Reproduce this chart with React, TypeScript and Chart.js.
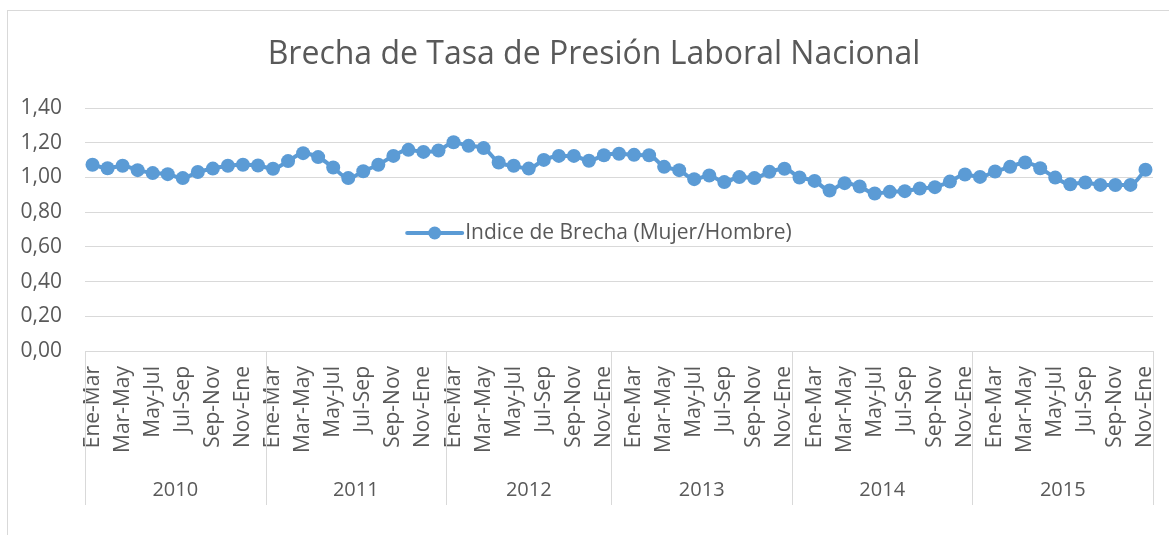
import React, { useEffect, useRef } from "react";
import { Chart, registerables } from "chart.js";

Chart.register(...registerables);

const periodsFull = ["Ene-Mar", "Feb-Abr", "Mar-May", "Abr-Jun", "May-Jul", "Jun-Ago", "Jul-Sep", "Ago-Oct", "Sep-Nov", "Oct-Dic", "Nov-Ene", "Dic-Feb"];
const periods2012 = ["Ene-Mar", "Feb-Abr", "Mar-May", "Abr-Jun", "May-Jul", "Jun-Ago", "Jul-Sep", "Ago-Oct", "Sep-Nov", "Oct-Dic", "Nov-Ene"];
const periodsLate = ["Dic-Feb", "Ene-Mar", "Feb-Abr", "Mar-May", "Abr-Jun", "May-Jul", "Jun-Ago", "Jul-Sep", "Ago-Oct", "Sep-Nov", "Oct-Dic", "Nov-Ene"];

const years = ["2010", "2011", "2012", "2013", "2014", "2015"];
const yearPeriods = [periodsFull, periodsFull, periods2012, periodsLate, periodsLate, periodsLate];

const values2010 = [1.073, 1.053, 1.067, 1.042, 1.025, 1.019, 0.996, 1.031, 1.051, 1.067, 1.073, 1.069];
const values2011 = [1.05, 1.094, 1.14, 1.117, 1.057, 0.996, 1.036, 1.073, 1.124, 1.159, 1.147, 1.155];
const values2012 = [1.203, 1.182, 1.169, 1.086, 1.067, 1.051, 1.101, 1.124, 1.124, 1.096, 1.128];
const values2013 = [1.136, 1.13, 1.128, 1.061, 1.042, 0.99, 1.011, 0.973, 1.002, 0.996, 1.032, 1.05];
const values2014 = [1.0, 0.98, 0.925, 0.967, 0.948, 0.907, 0.917, 0.921, 0.936, 0.944, 0.976, 1.017];
const values2015 = [1.003, 1.034, 1.061, 1.086, 1.053, 0.999, 0.961, 0.971, 0.957, 0.956, 0.957, 1.044];

const yTicks = [0, 0.2, 0.4, 0.6, 0.8, 1.0, 1.2, 1.4];

const seriesName = "Indice de Brecha (Mujer/Hombre)";
const title = "Brecha de Tasa de Presión Laboral Nacional";

const yearValues = [values2010, values2011, values2012, values2013, values2014, values2015];
const labels = yearPeriods.flat();
const data = yearValues.flat();

const FONT = "'Open Sans', Lato, sans-serif";
const TEXT = "#595959";
const GRID = "#d9d9d9";
const BLUE = "#5b9bd5";

const decorPlugin = {
  id: "decor",
  afterDraw(chart: any) {
    const { ctx, chartArea } = chart;
    const x = chart.scales.x;
    const half = (x.getPixelForValue(1) - x.getPixelForValue(0)) / 2;
    const top = chartArea.bottom;
    const bottom = x.bottom;
    ctx.save();

    // title
    ctx.fillStyle = TEXT;
    ctx.font = `32px ${FONT}`;
    ctx.textAlign = "center";
    ctx.textBaseline = "middle";
    ctx.fillText(title, chart.width / 2 + 9.5, chartArea.top - 53);

    // year groups
    ctx.strokeStyle = GRID;
    ctx.lineWidth = 1;
    ctx.font = `20px ${FONT}`;
    let start = 0;
    years.forEach((yr, i) => {
      const n = yearPeriods[i].length;
      const l = x.getPixelForValue(start) - half;
      const r = x.getPixelForValue(start + n - 1) + half;
      const lines = i === years.length - 1 ? [l, r] : [l];
      lines.forEach((px) => {
        const xx = Math.round(px) + 0.5;
        ctx.beginPath();
        ctx.moveTo(xx, top);
        ctx.lineTo(xx, bottom);
        ctx.stroke();
      });
      ctx.fillText(yr, (l + r) / 2, top + 139);
      start += n;
    });

    // legend
    ctx.font = `21px ${FONT}`;
    ctx.textAlign = "left";
    const tw = ctx.measureText(seriesName).width;
    const lineLen = 55;
    const total = lineLen + 3 + tw;
    const lx = chart.width / 2 - total / 2 + 15;
    const ly = chartArea.top + 125;
    ctx.strokeStyle = BLUE;
    ctx.lineWidth = 4;
    ctx.lineCap = "round";
    ctx.beginPath();
    ctx.moveTo(lx, ly);
    ctx.lineTo(lx + lineLen, ly);
    ctx.stroke();
    ctx.fillStyle = BLUE;
    ctx.beginPath();
    ctx.arc(lx + lineLen / 2, ly, 6.5, 0, Math.PI * 2);
    ctx.fill();
    ctx.fillStyle = TEXT;
    ctx.fillText(seriesName, lx + lineLen + 3, ly);
    ctx.restore();
  },
};

export default function App() {
  const ref = useRef<HTMLCanvasElement>(null);
  useEffect(() => {
    if (!ref.current) return;
    const chart = new Chart(ref.current, {
      type: "line",
      data: {
        labels,
        datasets: [
          {
            label: seriesName,
            data,
            borderColor: BLUE,
            backgroundColor: BLUE,
            borderWidth: 4,
            pointRadius: 7,
            pointHoverRadius: 7,
            pointBackgroundColor: BLUE,
            pointBorderColor: BLUE,
            pointBorderWidth: 0,
            tension: 0.35,
            cubicInterpolationMode: "monotone",
          },
        ],
      },
      options: {
        responsive: false,
        animation: false,
        layout: { padding: { left: 19, right: 16, top: 108, bottom: 30 } },
        plugins: {
          legend: { display: false },
          tooltip: { enabled: false },
          title: { display: false },
        },
        scales: {
          x: {
            type: "category",
            offset: true,
            grid: { display: false, drawTicks: false },
            border: { display: true, color: GRID, width: 1 },
            ticks: {
              autoSkip: false,
              minRotation: 90,
              maxRotation: 90,
              padding: 15,
              color: TEXT,
              font: { family: FONT, size: 21 },
              callback: (_v: any, i: number) => (i % 2 === 0 ? labels[i] : ""),
            },
            afterFit: (s: any) => {
              s.height = 154;
              s.paddingLeft = 0;
              s.paddingRight = 0;
            },
          },
          y: {
            min: 0,
            max: 1.4,
            afterBuildTicks: (s: any) => {
              s.ticks = yTicks.map((v) => ({ value: v }));
            },
            grid: { color: GRID, drawTicks: false, lineWidth: 1 },
            border: { display: false },
            ticks: {
              padding: 23,
              color: TEXT,
              font: { family: FONT, size: 21 },
              callback: (v: any) => Number(v).toFixed(2).replace(".", ","),
            },
            afterFit: (s: any) => {
              s.width = 66;
            },
          },
        },
      },
      plugins: [decorPlugin],
    });
    return () => chart.destroy();
  }, []);
  return (
    <>
      <div
        style={{
          position: "fixed",
          left: 7,
          top: 10,
          width: 1200,
          height: 560,
          border: `1px solid ${GRID}`,
          boxSizing: "border-box",
        }}
      />
      <canvas
        ref={ref}
        width={1169}
        height={535}
        style={{ position: "fixed", left: 0, top: 0, width: 1169, height: 535 }}
      />
    </>
  );
}
